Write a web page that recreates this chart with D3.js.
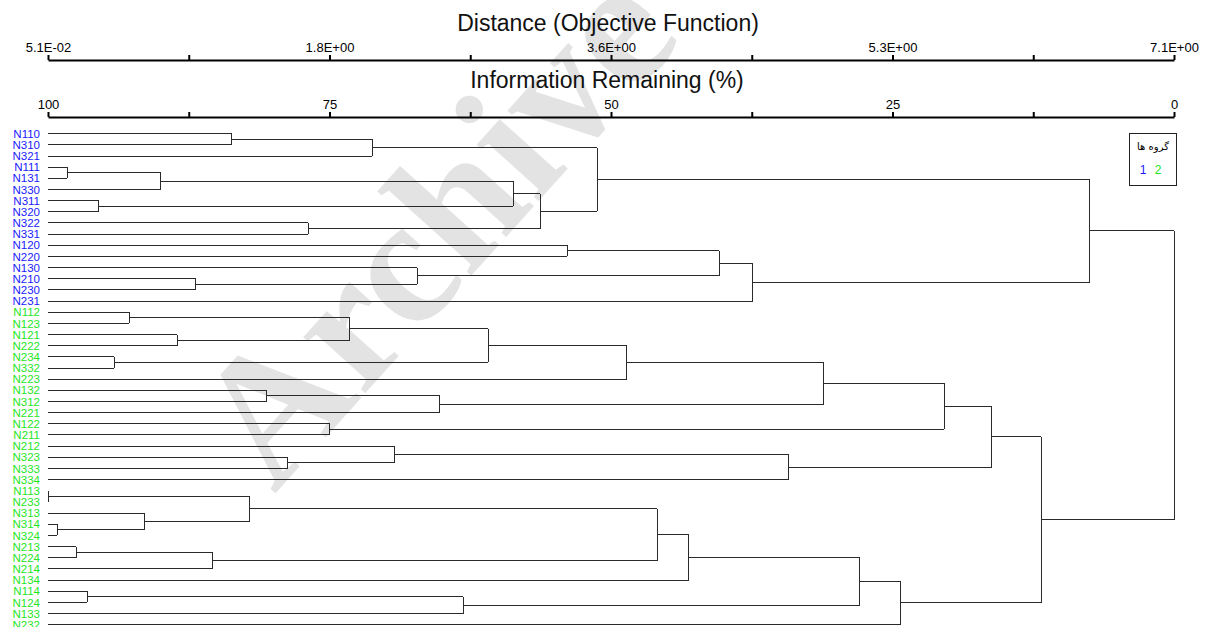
<!DOCTYPE html>
<html>
<head>
<meta charset="utf-8">
<script src="https://cdn.jsdelivr.net/npm/d3@7"></script>
<style>
  body { margin: 0; background: #fff; }
  text { font-family: "Liberation Sans", Arial, sans-serif; }
</style>
</head>
<body>
<div id="chart"></div>
<script>
// leaves, top to bottom
var leafNames = ["N110","N310","N321","N111","N131","N330","N311","N320","N322","N331",
  "N120","N220","N130","N210","N230","N231",
  "N112","N123","N121","N222","N234","N332","N223","N132","N312","N221","N122","N211",
  "N212","N323","N333","N334","N113","N233","N313","N314","N324","N213","N224","N214",
  "N134","N114","N124","N133","N232"];
// group of each leaf (1 = blue, 2 = green)
var leafGroup = [1,1,1,1,1,1,1,1,1,1,1,1,1,1,1,1,
  2,2,2,2,2,2,2,2,2,2,2,2,2,2,2,2,2,2,2,2,2,2,2,2,2,2,2,2,2];
// merges: [id, child a, child b, information remaining (%)]
var merges = [
  ["m1","N110","N310",83.7],
  ["m2","m1","N321",71.2],
  ["m3","N111","N131",98.3],
  ["m4","m3","N330",90.0],
  ["m5","N311","N320",95.5],
  ["m6","m4","m5",58.7],
  ["m7","N322","N331",76.9],
  ["m8","m6","m7",56.3],
  ["m9","m2","m8",51.2],
  ["m10","N120","N220",53.9],
  ["m11","N210","N230",86.9],
  ["m12","N130","m11",67.2],
  ["m13","m10","m12",40.4],
  ["m14","m13","N231",37.4],
  ["m15","m9","m14",7.5],
  ["g1","N112","N123",92.8],
  ["g2","N121","N222",88.5],
  ["g3","g1","g2",73.2],
  ["g4","N234","N332",94.1],
  ["g5","g3","g4",60.9],
  ["g6","g5","N223",48.6],
  ["g7","N132","N312",80.6],
  ["g8","g7","N221",65.2],
  ["g9","g6","g8",31.1],
  ["g10","N122","N211",75.0],
  ["g11","g9","g10",20.4],
  ["g12","N323","N333",78.7],
  ["g13","N212","g12",69.2],
  ["g14","g13","N334",34.2],
  ["g15","g11","g14",16.2],
  ["g16","N113","N233",99.97],
  ["g17","N314","N324",99.2],
  ["g18","N313","g17",91.4],
  ["g19","g16","g18",82.1],
  ["g20","N213","N224",97.5],
  ["g21","g20","N214",85.4],
  ["g22","g19","g21",45.9],
  ["g23","g22","N134",43.1],
  ["g24","N114","N124",96.5],
  ["g25","g24","N133",63.1],
  ["g26","g23","g25",27.9],
  ["g27","g26","N232",24.3],
  ["g28","g15","g27",11.8],
  ["root","m15","g28",0]
];
// axis ticks
var infoTicks = [100, 87.5, 75, 62.5, 50, 37.5, 25, 12.5, 0];
var infoLabels = ["100", "", "75", "", "50", "", "25", "", "0"];
var distLabels = ["5.1E-02", "", "1.8E+00", "", "3.6E+00", "", "5.3E+00", "", "7.1E+00"];
var groupColors = {1: "#1a1aff", 2: "#1ee61e"};

var svgWidth = 1208;
var svgHeight = 627;

var svg = d3.select("#chart")
  .append("svg")
  .attr("width", svgWidth)
  .attr("height", svgHeight);

// watermark
svg.append("text")
  .attr("transform", "translate(432,224) rotate(-48)")
  .attr("text-anchor", "middle")
  .attr("dy", "0.35em")
  .style("font-family", "'Liberation Serif', serif")
  .style("font-weight", "bold")
  .style("font-size", "182px")
  .attr("fill", "#e3e3e3")
  .text("Archive");

var xScale = d3.scaleLinear().domain([100, 0]).range([48, 1174]);
var yScale = d3.scalePoint().domain(leafNames).range([133.7, 624.7]);

// positions of every node
var pos = {};
leafNames.forEach(function(n, i) {
  pos[n] = {x: xScale(100), y: yScale(n), group: leafGroup[i]};
});

var linkGroup = svg.append("g")
  .attr("stroke", "#2a2a2a")
  .attr("stroke-width", 1)
  .attr("fill", "none")
  .attr("shape-rendering", "crispEdges");

merges.forEach(function(m) {
  var a = pos[m[1]], b = pos[m[2]];
  var x = xScale(m[3]);
  pos[m[0]] = {x: x, y: (a.y + b.y) / 2};
  [a, b].forEach(function(c) {
    linkGroup.append("line")
      .attr("x1", c.x).attr("x2", x)
      .attr("y1", c.y).attr("y2", c.y);
  });
  linkGroup.append("line")
    .attr("x1", x).attr("x2", x)
    .attr("y1", a.y).attr("y2", b.y);
});

// leaf labels
svg.append("g")
  .selectAll("text")
  .data(leafNames)
  .enter()
  .append("text")
  .attr("x", 40)
  .attr("y", d => yScale(d))
  .attr("dy", "0.36em")
  .attr("text-anchor", "end")
  .attr("font-size", "11.5px")
  .attr("fill", (d, i) => groupColors[leafGroup[i]])
  .text(d => d);

// axes
var distScale = d3.scaleLinear().domain([0.051, 7.1]).range([48, 1174]);
var distTicks = infoTicks.map(d => distScale.invert(xScale(d)));

var distAxis = d3.axisTop(distScale)
  .tickValues(distTicks)
  .tickFormat((d, i) => distLabels[i])
  .tickSize(5)
  .tickPadding(3)
  .tickSizeOuter(0);

var infoAxis = d3.axisTop(xScale)
  .tickValues(infoTicks)
  .tickFormat((d, i) => infoLabels[i])
  .tickSize(5)
  .tickPadding(3)
  .tickSizeOuter(0);

function styleAxis(g) {
  g.select(".domain").attr("stroke", "#000").attr("stroke-width", 2.2);
  g.selectAll(".tick line").attr("stroke", "#000").attr("stroke-width", 2);
  g.selectAll(".tick text")
    .attr("fill", "#000")
    .style("font-family", "'Liberation Sans', Arial, sans-serif")
    .style("font-size", "13px");
}

svg.append("g")
  .attr("transform", "translate(0,60)")
  .call(distAxis)
  .call(styleAxis);

svg.append("g")
  .attr("transform", "translate(0,117)")
  .call(infoAxis)
  .call(styleAxis);

svg.append("text")
  .attr("x", 608)
  .attr("y", 31)
  .attr("text-anchor", "middle")
  .attr("font-size", "23px")
  .attr("fill", "#111")
  .text("Distance (Objective Function)");

svg.append("text")
  .attr("x", 607)
  .attr("y", 88)
  .attr("text-anchor", "middle")
  .attr("font-size", "23px")
  .attr("fill", "#111")
  .text("Information Remaining (%)");

// legend
var legend = svg.append("g").attr("transform", "translate(1129,133)");
legend.append("rect")
  .attr("width", 47)
  .attr("height", 52)
  .attr("fill", "#fff")
  .attr("stroke", "#222")
  .attr("shape-rendering", "crispEdges");
legend.append("text")
  .attr("x", 24)
  .attr("y", 17)
  .attr("text-anchor", "middle")
  .attr("font-size", "10px")
  .style("font-family", "'DejaVu Sans', sans-serif")
  .attr("fill", "#000")
  .text("گروه ها");
legend.selectAll(".grp")
  .data([1, 2])
  .enter()
  .append("text")
  .attr("class", "grp")
  .attr("x", (d, i) => 14 + i * 15)
  .attr("y", 41)
  .attr("text-anchor", "middle")
  .attr("font-size", "12px")
  .attr("fill", d => groupColors[d])
  .text(d => d);
</script>
</body>
</html>
